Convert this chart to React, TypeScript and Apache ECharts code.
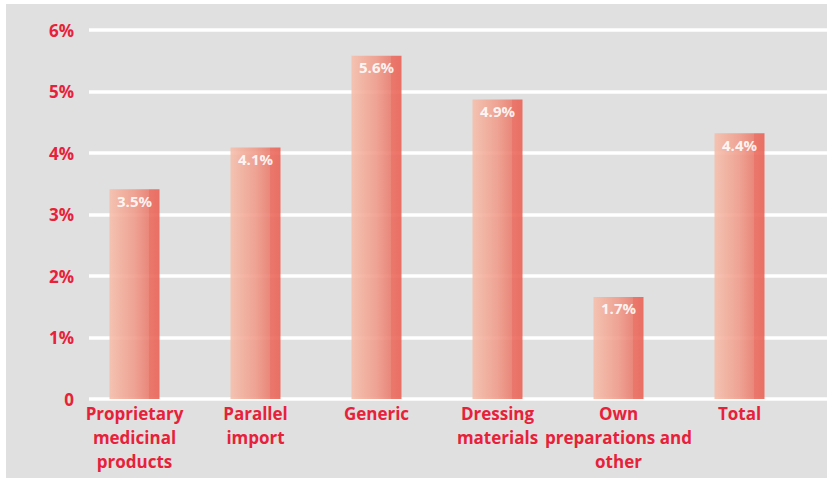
import React, { useEffect, useRef } from "react";
import * as echarts from "echarts";

const categories = [
  "Proprietary\nmedicinal\nproducts",
  "Parallel\nimport",
  "Generic",
  "Dressing\nmaterials",
  "Own\npreparations and\nother",
  "Total",
];
const values = [3.41, 4.09, 5.58, 4.87, 1.66, 4.32];
const valueLabels = ["3.5%", "4.1%", "5.6%", "4.9%", "1.7%", "4.4%"];
const yTicks = [0, 1, 2, 3, 4, 5, 6];

const RED = "#e8213a";
const FONT = "'Open Sans', 'Noto Sans', sans-serif";

export default function App() {
  const ref = useRef<HTMLDivElement>(null);
  useEffect(() => {
    if (!ref.current) return;
    const chart = echarts.init(ref.current, null, { renderer: "svg" });
    const barColor = new echarts.graphic.LinearGradient(0, 0, 1, 0, [
      { offset: 0, color: "#f6bfac" },
      { offset: 0.5, color: "#f09c8b" },
      { offset: 0.78, color: "#ea7f71" },
      { offset: 0.8, color: "#ec6c5f" },
      { offset: 1, color: "#ea6356" },
    ]);
    chart.setOption({
      animation: false,
      backgroundColor: "#ffffff",
      graphic: [
        {
          type: "rect",
          z: -10,
          shape: { x: 6, y: 4, width: 830, height: 474 },
          style: { fill: "#dfe0df" },
          silent: true,
        },
      ],
      grid: [
        { left: 89, right: 0, top: 30, bottom: 84, containLabel: false },
        { left: 74, width: 726, top: 30, bottom: 84, containLabel: false },
      ],
      xAxis: [
        { type: "value", gridIndex: 0, show: false, min: 0, max: 1 },
        {
          type: "category",
          gridIndex: 1,
          data: categories,
          axisLine: { show: false },
          axisTick: { show: false },
          axisLabel: {
            color: RED,
            fontFamily: FONT,
            fontWeight: "bold",
            fontSize: 17,
            lineHeight: 24,
            margin: 2,
            interval: 0,
          },
        },
      ],
      yAxis: [
        {
          type: "value",
          gridIndex: 0,
          min: yTicks[0],
          max: yTicks[yTicks.length - 1],
          interval: 1,
          axisLine: { show: false },
          axisTick: { show: false },
          splitLine: { show: true, lineStyle: { color: "#ffffff", width: 3.5 } },
          axisLabel: {
            color: RED,
            fontFamily: FONT,
            fontWeight: "bold",
            fontSize: 17,
            margin: 15,
            formatter: (v: number) => (v === 0 ? "0" : v + "%"),
          },
        },
        {
          type: "value",
          gridIndex: 1,
          min: yTicks[0],
          max: yTicks[yTicks.length - 1],
          interval: 1,
          show: false,
          splitLine: { show: false },
        },
      ],
      series: [
        {
          type: "bar",
          xAxisIndex: 1,
          yAxisIndex: 1,
          data: values,
          barWidth: 50,
          z: 5,
          itemStyle: { color: barColor, opacity: 0.9 },
          label: {
            show: true,
            position: "insideTop",
            distance: 4,
            color: "#ffffff",
            fontFamily: FONT,
            fontWeight: "bold",
            fontSize: 15,
            formatter: (p: any) => valueLabels[p.dataIndex],
          },
        },
      ],
    });
    return () => chart.dispose();
  }, []);
  return (
    <div
      ref={ref}
      style={{ position: "fixed", left: 0, top: 0, width: 827, height: 483 }}
    />
  );
}
